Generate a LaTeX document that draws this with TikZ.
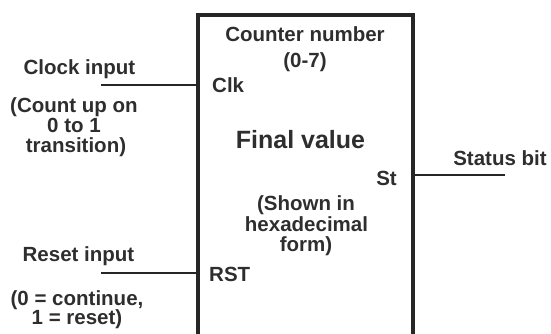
\documentclass[tikz,border=0pt]{standalone}
\usepackage{fontspec}
\setmainfont{Liberation Sans}
\definecolor{ink}{HTML}{2E2E2E}
\definecolor{wire}{HTML}{262626}
\begin{document}
\begin{tikzpicture}[x=1pt,y=-1pt,
  lbl/.style={inner sep=0pt, text=ink, font=\bfseries\fontsize{20.5}{20}\selectfont},
  big/.style={inner sep=0pt, text=ink, font=\bfseries\fontsize{25}{25}\selectfont},
  wirestyle/.style={draw=wire, line width=2pt},
  blockbox/.style={draw=wire, line width=4pt, inner sep=0pt, anchor=north west,
    minimum width=215.5pt, minimum height=340pt}]
  \useasboundingbox (0,0) rectangle (551,334);
  \clip (0,0) rectangle (551,334);

  % counter block (its lower edge runs past the page)
  \node[blockbox] (counter) at (195.5,13) {};

  % texts inside the block
  \node[lbl, anchor=base] (cnum) at (305,42) {Counter number};
  \node[lbl, anchor=base] (crange) at (305,68) {(0-7)};
  \node[lbl, anchor=base west] (clk) at (212,93) {Clk};
  \node[big, anchor=base] (final) at (300.5,148) {Final value};
  \node[lbl, anchor=base east] (st) at (397,185) {St};
  \node[lbl, anchor=base] (hex1) at (306,210) {(Shown in};
  \node[lbl, anchor=base] (hex2) at (306.5,231) {hexadecimal};
  \node[lbl, anchor=base] (hex3) at (306,251) {form)};
  \node[lbl, anchor=base west] (rst) at (209,281) {RST};

  % clock input
  \node[lbl, anchor=base] (clkin) at (79.5,75) {Clock input};
  \node[lbl, anchor=base] (clkn1) at (74,113) {(Count up on};
  \node[lbl, anchor=base] (clkn2) at (74,132.5) {0 to 1};
  \node[lbl, anchor=base] (clkn3) at (76,152) {transition)};
  \coordinate (clkend) at (101,85);
  \draw[wirestyle] (clkend) -- (clkend -| counter.west);

  % reset input
  \node[lbl, anchor=base] (rstin) at (78.5,261) {Reset input};
  \node[lbl, anchor=base] (rstn1) at (77,305) {(0 = continue,};
  \node[lbl, anchor=base] (rstn2) at (77,324) {1 = reset)};
  \coordinate (rstend) at (101,273);
  \draw[wirestyle] (rstend) -- (rstend -| counter.west);

  % status output
  \node[lbl, anchor=base] (stat) at (500,165) {Status bit};
  \coordinate (stend) at (505,175);
  \draw[wirestyle] (stend -| counter.east) -- (stend);
\end{tikzpicture}
\end{document}
